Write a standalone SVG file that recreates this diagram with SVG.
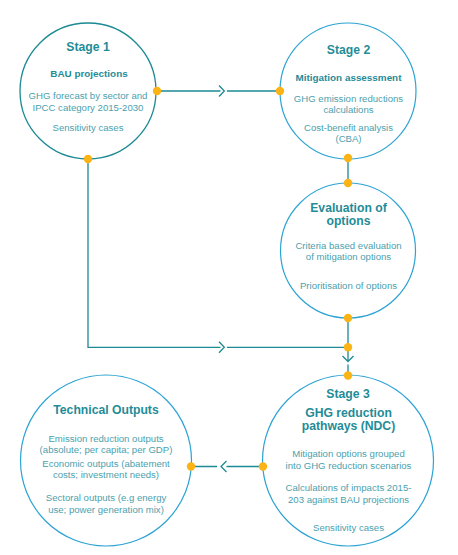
<svg xmlns="http://www.w3.org/2000/svg" width="458" height="555" viewBox="0 0 458 555">
<style>
.c1{fill:none;stroke:#1c8a94;stroke-width:1.3}
.c2{fill:none;stroke:#2ba3d3;stroke-width:1.2}
.ln{fill:none;stroke:#1c8a94;stroke-width:1.3}
.dot{fill:#fcb316}
text{font-family:"Liberation Sans",Arial,sans-serif;text-anchor:middle}
.t{font-size:12.2px;font-weight:bold;fill:#1f8c98}
.s{font-size:9.9px;font-weight:bold;fill:#1f8c98}
.b{font-size:9.6px;fill:#4c9fae}
</style>
<rect width="458" height="555" fill="#ffffff"/>
<g id="connectors">
<path class="ln" d="M157,91 H220.5 M227,91 H280"/>
<path class="ln" d="M219,85.5 L224.3,91 L219,96.5"/>
<path class="ln" d="M88,159 V347.3 H220.5 M227,347.3 H348"/>
<path class="ln" d="M219,341.8 L224.3,347.3 L219,352.8"/>
<path class="ln" d="M348,158 V183 M348,318 V347"/>
<path class="ln" d="M348,347 V361 M348,364.5 V375.5"/>
<path class="ln" d="M342.5,356 L348,361.5 L353.5,356"/>
<path class="ln" d="M263,466.5 H226.5 M217,466.5 H191"/>
<path class="ln" d="M226.5,461 L221,466.5 L226.5,472"/>
</g>
<g id="stage1">
<circle class="c1" cx="88" cy="91" r="68"/>
<text class="t" x="88" y="50.5">Stage 1</text>
<text class="s" x="89" y="77">BAU projections</text>
<text class="b" x="88" y="98.5">GHG forecast by sector and</text>
<text class="b" x="88" y="110.5">IPCC category 2015-2030</text>
<text class="b" x="88" y="131">Sensitivity cases</text>
</g>
<g id="stage2">
<circle class="c2" cx="348" cy="91" r="68"/>
<text class="t" x="348.5" y="53.5">Stage 2</text>
<text class="s" x="348.5" y="80.5">Mitigation assessment</text>
<text class="b" x="348.5" y="101.5">GHG emission reductions</text>
<text class="b" x="348.5" y="113">calculations</text>
<text class="b" x="348.5" y="131">Cost-benefit analysis</text>
<text class="b" x="348.5" y="142.3">(CBA)</text>
</g>
<g id="evaluation">
<circle class="c2" cx="348" cy="250.5" r="67.5"/>
<text class="t" x="348.5" y="211.8">Evaluation of</text>
<text class="t" x="348.5" y="224.8">options</text>
<text class="b" x="348.5" y="249.3">Criteria based evaluation</text>
<text class="b" x="348.5" y="259.8">of mitigation options</text>
<text class="b" x="348.5" y="289.3">Prioritisation of options</text>
</g>
<g id="stage3">
<circle class="c2" cx="348" cy="460.5" r="85.5"/>
<text class="t" x="348" y="397.7">Stage 3</text>
<text class="t" x="348.5" y="417.3">GHG reduction</text>
<text class="t" x="348.5" y="430.3">pathways (NDC)</text>
<text class="b" x="348.5" y="457.3">Mitigation options grouped</text>
<text class="b" x="348.5" y="469.3">into GHG reduction scenarios</text>
<text class="b" x="348.5" y="491">Calculations of impacts 2015-</text>
<text class="b" x="348.5" y="502.7">203 against BAU projections</text>
<text class="b" x="348.5" y="530.7">Sensitivity cases</text>
</g>
<g id="technical-outputs">
<circle class="c2" cx="106" cy="460.5" r="85.5"/>
<text class="t" x="106" y="414">Technical Outputs</text>
<text class="b" x="106" y="441.7">Emission reduction outputs</text>
<text class="b" x="106" y="452.7">(absolute; per capita; per GDP)</text>
<text class="b" x="106" y="467.3">Economic outputs (abatement</text>
<text class="b" x="106" y="478.3">costs; investment needs)</text>
<text class="b" x="106" y="500.7">Sectoral outputs (e.g energy</text>
<text class="b" x="106" y="512.7">use; power generation mix)</text>
</g>
<g id="dots">
<circle class="dot" cx="157" cy="91" r="4.2"/>
<circle class="dot" cx="88" cy="159" r="4.2"/>
<circle class="dot" cx="280" cy="91" r="4.2"/>
<circle class="dot" cx="348" cy="158" r="4.2"/>
<circle class="dot" cx="348" cy="183" r="4.2"/>
<circle class="dot" cx="348" cy="318" r="4.2"/>
<circle class="dot" cx="348" cy="347.3" r="4.2"/>
<circle class="dot" cx="348" cy="375.5" r="4.2"/>
<circle class="dot" cx="263" cy="466.5" r="4.2"/>
<circle class="dot" cx="191" cy="466.5" r="4.2"/>
</g>
</svg>
